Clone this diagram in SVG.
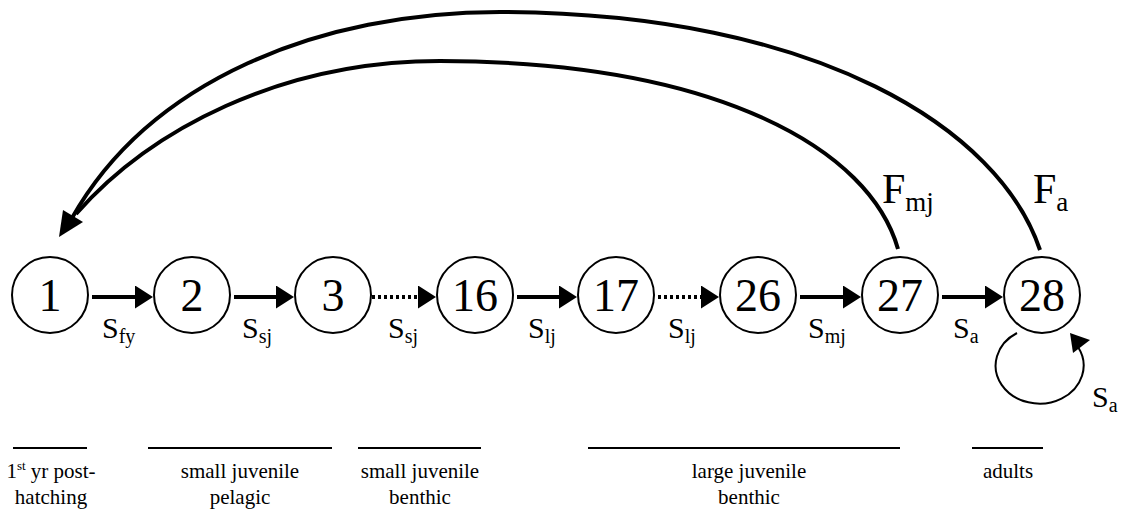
<svg xmlns="http://www.w3.org/2000/svg" width="1128" height="518" viewBox="0 0 1128 518" font-family="'Liberation Serif','DejaVu Serif','Noto Serif',serif">
<style>
text{font-family:"Liberation Serif","DejaVu Serif","Noto Serif",serif;fill:#000}
.n{fill:#fff;stroke:#000;stroke-width:2}
.num{font-size:46px;text-anchor:middle}
.lab{font-size:30px}
.sub{font-size:20px}
.flab{font-size:42px}
.fsub{font-size:27px}
.cap{font-size:21px;text-anchor:middle}
.solid{stroke:#000;stroke-width:4;fill:none}
.dot{stroke:#000;stroke-width:4;fill:none;stroke-dasharray:3 3}
.curve{stroke:#000;stroke-width:4;fill:none}
.bar{stroke:#000;stroke-width:2}
</style>
<defs>
<marker id="ah" markerUnits="userSpaceOnUse" markerWidth="20" markerHeight="24" refX="2" refY="11.5" orient="auto">
<path d="M0,0 L18,11.5 L0,23 z" fill="#000"/>
</marker>
</defs>
<g id="connectors">
<line class="solid" x1="92" y1="297" x2="137" y2="297" marker-end="url(#ah)"/>
<line class="solid" x1="234" y1="297" x2="278" y2="297" marker-end="url(#ah)"/>
<line class="dot" x1="372" y1="297" x2="420" y2="297" marker-end="url(#ah)"/>
<line class="solid" x1="517" y1="297" x2="561" y2="297" marker-end="url(#ah)"/>
<line class="dot" x1="658" y1="297" x2="703" y2="297" marker-end="url(#ah)"/>
<line class="solid" x1="800" y1="297" x2="845" y2="297" marker-end="url(#ah)"/>
<line class="solid" x1="942" y1="297" x2="987" y2="297" marker-end="url(#ah)"/>
<path class="curve" d="M1040 250 C1000 130,820 13,500 12 C320 12,150 80,72 218"/>
<path class="curve" d="M898 249 C870 150,720 62,440 61 C280 61,150 130,76 214"/>
<polygon points="59,237 63,210 83,222" fill="#000"/>
<path d="M1017 333 A44 38 0 1 0 1078 347" fill="none" stroke="#000" stroke-width="2"/>
<polygon points="1070,333 1073,353 1090,340" fill="#000"/>
</g>
<g id="n1"><circle class="n" cx="50" cy="295" r="38"/><text class="num" x="50" y="311">1</text></g>
<g id="n2"><circle class="n" cx="192" cy="295" r="38"/><text class="num" x="192" y="311">2</text></g>
<g id="n3"><circle class="n" cx="333" cy="295" r="38"/><text class="num" x="333" y="311">3</text></g>
<g id="n16"><circle class="n" cx="475" cy="295" r="38"/><text class="num" x="475" y="311">16</text></g>
<g id="n17"><circle class="n" cx="616" cy="295" r="38"/><text class="num" x="616" y="311">17</text></g>
<g id="n26"><circle class="n" cx="758" cy="295" r="38"/><text class="num" x="758" y="311">26</text></g>
<g id="n27"><circle class="n" cx="900" cy="295" r="38"/><text class="num" x="900" y="311">27</text></g>
<g id="n28"><circle class="n" cx="1042" cy="295" r="38"/><text class="num" x="1042" y="311">28</text></g>
<g id="labels">
<text class="lab" x="102" y="338">S<tspan class="sub" dy="5">fy</tspan></text>
<text class="lab" x="242" y="338">S<tspan class="sub" dy="5">sj</tspan></text>
<text class="lab" x="388" y="338">S<tspan class="sub" dy="5">sj</tspan></text>
<text class="lab" x="528" y="338">S<tspan class="sub" dy="5">lj</tspan></text>
<text class="lab" x="668" y="338">S<tspan class="sub" dy="5">lj</tspan></text>
<text class="lab" x="808" y="338">S<tspan class="sub" dy="5">mj</tspan></text>
<text class="lab" x="953" y="338">S<tspan class="sub" dy="5">a</tspan></text>
<text class="lab" x="1092" y="407">S<tspan class="sub" dy="5">a</tspan></text>
<text class="flab" x="882" y="203">F<tspan class="fsub" dy="8">mj</tspan></text>
<text class="flab" x="1033" y="203">F<tspan class="fsub" dy="8">a</tspan></text>
</g>
<g id="stages">
<line class="bar" x1="13" y1="448" x2="87" y2="448"/>
<line class="bar" x1="148" y1="448" x2="332" y2="448"/>
<line class="bar" x1="358" y1="448" x2="481" y2="448"/>
<line class="bar" x1="588" y1="448" x2="900" y2="448"/>
<line class="bar" x1="972" y1="448" x2="1043" y2="448"/>
<text class="cap" x="51" y="478">1<tspan font-size="13" dy="-8">st</tspan><tspan dy="8"> yr post-</tspan></text>
<text class="cap" x="51" y="504">hatching</text>
<text class="cap" x="240" y="478">small juvenile</text>
<text class="cap" x="240" y="504">pelagic</text>
<text class="cap" x="420" y="478">small juvenile</text>
<text class="cap" x="420" y="504">benthic</text>
<text class="cap" x="749" y="478">large juvenile</text>
<text class="cap" x="749" y="504">benthic</text>
<text class="cap" x="1008" y="478">adults</text>
</g>
</svg>
